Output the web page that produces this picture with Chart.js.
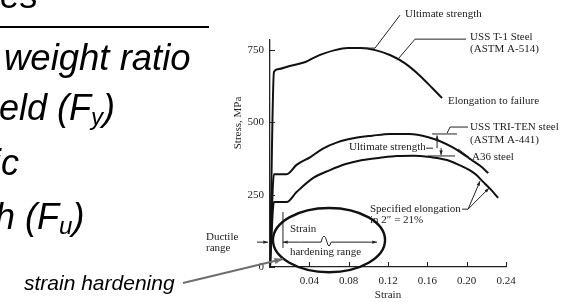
<!DOCTYPE html>
<html>
<head>
<meta charset="utf-8">
<script src="https://cdn.jsdelivr.net/npm/chart.js@4.4.1/dist/chart.umd.min.js"></script>
<style>
  html, body { margin:0; padding:0; background:#fff; }
  #wrap { position:relative; width:571px; height:302px; overflow:hidden; }
  #chart { position:absolute; left:0; top:0; }
  .slide { position:absolute; font-family:"Liberation Sans", Arial, sans-serif; font-style:italic; color:#000; white-space:nowrap; line-height:1; font-size:36px; }
  .slide sub { font-size:0.67em; position:relative; top:0.22em; vertical-align:baseline; }
  #rule { position:absolute; left:0; top:26px; width:209px; height:1.5px; background:#000; }
</style>
</head>
<body>
<div id="wrap">
  <canvas id="chart" width="571" height="302"></canvas>
  <div class="slide" style="left:0;top:-22.5px">es</div>
  <div id="rule"></div>
  <div class="slide" style="left:4px;top:39.5px;font-size:36.5px">weight ratio</div>
  <div class="slide" style="left:-1px;top:89.5px">eld (F<sub>y</sub>)</div>
  <div class="slide" style="left:-7px;top:144.5px">ic</div>
  <div class="slide" style="left:-5px;top:198.5px">h (F<sub>u</sub>)</div>
  <div class="slide" style="left:24px;top:272px;font-size:21px">strain hardening</div>
</div>
<script>
const xTicks = [0, 0.04, 0.08, 0.12, 0.16, 0.20, 0.24];
const yTicks = [0, 250, 500, 750];

// USS T-1 steel (ASTM A-514)
const t1Strain = [0, 0.004, 0.008, 0.020, 0.036, 0.046, 0.053, 0.066, 0.079, 0.092, 0.107, 0.122, 0.137, 0.153, 0.165, 0.175];
const t1Stress = [0, 674, 684, 695, 709, 726, 736, 750, 757, 757, 750, 733, 705, 660, 619, 584];

// USS TRI-TEN steel (ASTM A-441)
const triStrain = [0, 0.004, 0.017, 0.027, 0.041, 0.053, 0.069, 0.086, 0.104, 0.122, 0.142, 0.161, 0.173, 0.185, 0.195, 0.205, 0.214, 0.222];
const triStress = [0, 321, 321, 353, 380, 408, 432, 446, 454, 460, 460, 449, 435, 415, 394, 370, 349, 325];

// A36 steel
const a36Strain = [0, 0.004, 0.017, 0.027, 0.044, 0.061, 0.077, 0.094, 0.112, 0.129, 0.146, 0.163, 0.180, 0.193, 0.203, 0.210, 0.216, 0.224, 0.232];
const a36Stress = [0, 225, 225, 259, 308, 335, 356, 370, 378, 384, 385, 380, 370, 352, 335, 318, 297, 270, 239];

// annotation texts, left edge / middle in strain & MPa
const noteText = ["Ultimate strength", "USS T-1 Steel", "(ASTM A-514)", "Elongation to failure",
  "USS TRI-TEN steel", "(ASTM A-441)", "Ultimate strength", "A36 steel",
  "Specified elongation", "in 2\u2033 = 21%", "Ductile", "range", "Strain", "hardening range"];
const noteX = [0.1373, 0.2035, 0.2035, 0.1811, 0.2035, 0.2035, 0.0804, 0.2055, 0.1017, 0.1017, -0.0651, -0.0651, 0.0203, 0.0203];
const noteY = [874, 795, 753, 574, 484, 439, 414, 380, 200, 162, 104, 66, 131, 52];

// leader lines (polylines)
const leaders = [
  [[0.0936, 757], [0.1068, 757], [0.1322, 871]],
  [[0.1292, 715], [0.1475, 788], [0.1994, 788]],
  [[0.1801, 463], [0.1831, 484], [0.2014, 484]],
  [[0.1648, 460], [0.1902, 460]],
  [[0.1607, 384], [0.1882, 384]],
  [[0.1587, 411], [0.1658, 411]],
  [[0.2024, 380], [0.1913, 408]],
  [[0.1953, 200], [0.2014, 200]],
  [[0.0132, 190], [0.0132, 66]],
  [[0.0300, 86], [0.0519, 86]]
];
// arrows: from -> to (head at "to")
const arrows = [
  [[0.1699, 411], [0.1699, 455]],
  [[0.1740, 411], [0.1740, 387]],
  [[0.2014, 200], [0.2136, 297]],
  [[0.2014, 200], [0.2228, 273]],
  [[-0.0132, 86], [-0.0020, 86]],
  [[0.0300, 86], [0.0132, 86]],
  [[0.0621, 86], [0.1088, 86]]
];

const ink = "#222";
const serif = { family: "'Liberation Serif', 'Times New Roman', serif", size: 11 };

const pts = (xs, ys) => xs.map((v, i) => ({ x: v, y: ys[i] }));

const sketch = {
  id: "sketch",
  afterDatasetsDraw(chart) {
    const { ctx, chartArea: a, scales: { x, y } } = chart;
    const X = v => x.getPixelForValue(v), Y = v => y.getPixelForValue(v);
    ctx.save();
    ctx.strokeStyle = ink;
    ctx.fillStyle = ink;
    ctx.lineWidth = 1.1;

    // inward tick marks
    ctx.beginPath();
    xTicks.forEach(v => { if (!v) return; const p = Math.round(X(v)) + 0.5; ctx.moveTo(p, a.bottom); ctx.lineTo(p, a.bottom - 5); });
    yTicks.forEach(v => { const p = Math.round(Y(v)) + 0.5; ctx.moveTo(a.left, p); ctx.lineTo(a.left + 5, p); });
    ctx.stroke();

    // y title
    ctx.font = "11px 'Liberation Serif', serif";
    ctx.save();
    ctx.translate(X(-0.0326), Y(498));
    ctx.rotate(-Math.PI / 2);
    ctx.textAlign = "center"; ctx.textBaseline = "middle";
    ctx.fillText("Stress, MPa", 0, 0);
    ctx.restore();

    // texts
    ctx.textAlign = "left"; ctx.textBaseline = "middle";
    noteText.forEach((t, i) => ctx.fillText(t, X(noteX[i]), Y(noteY[i])));

    // leaders
    ctx.lineWidth = 1;
    leaders.forEach(l => {
      ctx.beginPath();
      l.forEach((p, i) => i ? ctx.lineTo(X(p[0]), Y(p[1])) : ctx.moveTo(X(p[0]), Y(p[1])));
      ctx.stroke();
    });

    // break squiggle on strain hardening range
    ctx.beginPath();
    ctx.moveTo(X(0.0519), Y(86));
    ctx.quadraticCurveTo(X(0.0549), Y(128), X(0.0580), Y(86));
    ctx.quadraticCurveTo(X(0.0600), Y(59), X(0.0621), Y(86));
    ctx.stroke();

    const arrow = (p, q, size) => {
      const x1 = X(p[0]), y1 = Y(p[1]), x2 = X(q[0]), y2 = Y(q[1]);
      const ang = Math.atan2(y2 - y1, x2 - x1);
      ctx.beginPath(); ctx.moveTo(x1, y1); ctx.lineTo(x2, y2); ctx.stroke();
      ctx.beginPath();
      ctx.moveTo(x2, y2);
      ctx.lineTo(x2 - size * Math.cos(ang - 0.35), y2 - size * Math.sin(ang - 0.35));
      ctx.lineTo(x2 - size * Math.cos(ang + 0.35), y2 - size * Math.sin(ang + 0.35));
      ctx.closePath(); ctx.fill();
    };
    arrows.forEach(ar => arrow(ar[0], ar[1], 5));

    // circled strain hardening region
    ctx.strokeStyle = "#111";
    ctx.lineWidth = 2.4;
    const cx = X(0.060), cy = Y(93);
    ctx.beginPath();
    ctx.ellipse(cx, cy, X(0.117) - cx, cy - Y(204), 0, 0, Math.PI * 2);
    ctx.stroke();

    // pointer from slide text
    ctx.strokeStyle = "#6e6e6e"; ctx.fillStyle = "#6e6e6e";
    ctx.lineWidth = 2;
    arrow([-0.0885, -55], [0.0132, 28], 9);
    ctx.restore();
  }
};

new Chart(document.getElementById("chart"), {
  type: "line",
  data: {
    datasets: [
      { label: "USS T-1", data: pts(t1Strain, t1Stress) },
      { label: "USS TRI-TEN", data: pts(triStrain, triStress) },
      { label: "A36", data: pts(a36Strain, a36Stress) }
    ]
  },
  options: {
    responsive: false,
    animation: false,
    elements: {
      line: { borderColor: "#111", borderWidth: 2, cubicInterpolationMode: "monotone", fill: false },
      point: { radius: 0 }
    },
    layout: { padding: { left: 230, right: 65, top: 40, bottom: 0 } },
    plugins: { legend: { display: false }, tooltip: { enabled: false } },
    scales: {
      x: {
        type: "linear", min: 0, max: 0.24,
        afterBuildTicks: s => { s.ticks = xTicks.map(v => ({ value: v })); },
        afterFit: s => { s.height = 35; },
        grid: { display: false, drawTicks: false },
        border: { display: true, color: ink, width: 1.3 },
        ticks: { padding: 8, color: ink, font: serif, maxRotation: 0, autoSkip: false,
          callback: v => v === 0 ? "" : v.toFixed(2) },
        title: { display: true, text: "Strain", color: ink, font: serif, padding: { top: 0, bottom: 0 } }
      },
      y: {
        type: "linear", min: 0, max: 785,
        afterBuildTicks: s => { s.ticks = yTicks.map(v => ({ value: v })); },
        afterFit: s => { s.width = 40; },
        grid: { display: false, drawTicks: false },
        border: { display: true, color: ink, width: 1.3 },
        ticks: { padding: 6, color: ink, font: serif }
      }
    }
  },
  plugins: [sketch]
});
</script>
</body>
</html>
